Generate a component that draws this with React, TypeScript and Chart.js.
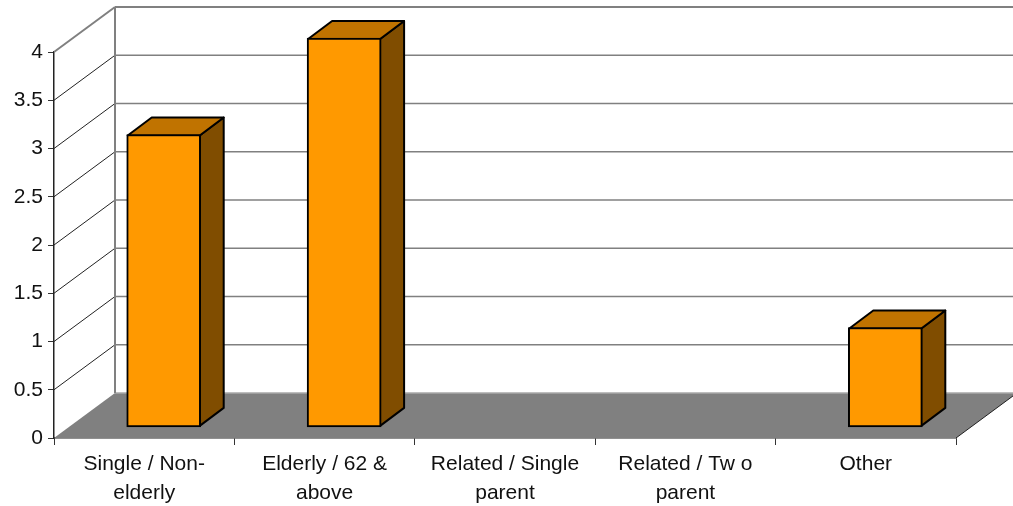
import React, { useEffect, useRef } from "react";
import { Chart, registerables } from "chart.js";

Chart.register(...registerables);

const categories = [
  ["Single / Non-", "elderly"],
  ["Elderly / 62 &", "above"],
  ["Related / Single", "parent"],
  ["Related / Tw o", "parent"],
  ["Other"],
];
const households: (number | null)[] = [3, 4, null, null, 1];
const yTickStep = 0.5;
const yMax = 4;

const FONT = "'Liberation Sans', Arial, sans-serif";
const FACE = "#FF9900";
const TOP = "#C07300";
const SIDE = "#804D00";
const WALL_LINE = "#808080";
const FLOOR = "#808080";

// Oblique projection: how far the back wall sits from the axis plane,
// how far the bars stand in from it, and how deep the bars are.
const WALL_DX = 61;
const WALL_DY = 45;
const BAR_DX = 19.5;
const BAR_DY = 14;
const DEPTH_DX = 24;
const DEPTH_DY = 18;

function poly(ctx: CanvasRenderingContext2D, pts: number[][]) {
  ctx.beginPath();
  pts.forEach(([x, y], i) => (i ? ctx.lineTo(x, y) : ctx.moveTo(x, y)));
  ctx.closePath();
}

function line(ctx: CanvasRenderingContext2D, x1: number, y1: number, x2: number, y2: number, color: string, w: number) {
  ctx.strokeStyle = color;
  ctx.lineWidth = w;
  ctx.beginPath();
  ctx.moveTo(x1, y1);
  ctx.lineTo(x2, y2);
  ctx.stroke();
}

const box3d = {
  id: "box3d",
  beforeDatasetsDraw(chart: any) {
    const { ctx, chartArea: a, scales } = chart;
    const y = scales.y;
    ctx.save();
    ctx.lineCap = "butt";

    // Floor
    ctx.fillStyle = FLOOR;
    poly(ctx, [
      [a.left, a.bottom],
      [a.right, a.bottom],
      [a.right + WALL_DX, a.bottom - WALL_DY],
      [a.left + WALL_DX, a.bottom - WALL_DY],
    ]);
    ctx.fill();
    line(ctx, a.right, a.bottom, a.right + WALL_DX, a.bottom - WALL_DY, "#222", 1);

    // Back wall and side wall grid
    y.ticks.forEach((t: any) => {
      const py = y.getPixelForValue(t.value);
      const top = t.value === yMax;
      if (t.value !== 0) {
        line(ctx, a.left, py, a.left + WALL_DX, py - WALL_DY, top ? WALL_LINE : "#222", top ? 2 : 1);
      }
      const floorEdge = t.value === 0;
      line(ctx, a.left + WALL_DX, py - WALL_DY, a.right + WALL_DX, py - WALL_DY, floorEdge ? "#A8A8A8" : WALL_LINE, top ? 2 : 1.5);
    });
    line(ctx, a.left + WALL_DX, a.top - WALL_DY, a.left + WALL_DX, a.bottom - WALL_DY, WALL_LINE, 2);

    // Top and side faces of each bar
    ctx.lineJoin = "round";
    chart.getDatasetMeta(0).data.forEach((el: any, i: number) => {
      if (households[i] == null) return;
      const { x, y: yTop, base, width } = el.getProps(["x", "y", "base", "width"], true);
      const inset = 1;
      const l = x - width / 2 + inset + BAR_DX;
      const r = x + width / 2 - inset + BAR_DX;
      const t = yTop + inset - BAR_DY;
      const b = base - inset - BAR_DY;
      ctx.lineWidth = 2;
      ctx.strokeStyle = "#000";
      ctx.fillStyle = SIDE;
      poly(ctx, [
        [r, t],
        [r + DEPTH_DX, t - DEPTH_DY],
        [r + DEPTH_DX, b - DEPTH_DY],
        [r, b],
      ]);
      ctx.fill();
      ctx.stroke();
      ctx.fillStyle = TOP;
      poly(ctx, [
        [l, t],
        [l + DEPTH_DX, t - DEPTH_DY],
        [r + DEPTH_DX, t - DEPTH_DY],
        [r, t],
      ]);
      ctx.fill();
      ctx.stroke();
    });
    ctx.restore();
  },
  // The front faces come from the bar elements, moved in from the axis plane.
  beforeDatasetDraw(chart: any) {
    chart.ctx.save();
    chart.ctx.translate(BAR_DX, -BAR_DY);
  },
  afterDatasetDraw(chart: any) {
    chart.ctx.restore();
  },
};

export default function App() {
  const ref = useRef<HTMLCanvasElement>(null);
  useEffect(() => {
    document.body.style.margin = "0";
    document.body.style.background = "#fff";
    const chart = new Chart(ref.current!, {
      type: "bar",
      data: {
        labels: categories,
        datasets: [
          {
            data: households,
            base: -0.03,
            clip: false,
            backgroundColor: FACE,
            borderColor: "#000",
            borderWidth: 2,
            borderSkipped: false,
            barThickness: 74,
          } as any,
        ],
      },
      options: {
        animation: false,
        responsive: false,
        layout: { padding: { top: 52, right: 57, left: 0, bottom: 0 } },
        plugins: { legend: { display: false }, tooltip: { enabled: false } },
        scales: {
          x: {
            grid: { drawOnChartArea: false, drawTicks: true, tickLength: 7, color: "#333", offset: true },
            border: { color: "#222", width: 1.5 },
            ticks: {
              color: "#111",
              font: { family: FONT, size: 21, lineHeight: 1.38 },
              maxRotation: 0,
              autoSkip: false,
              padding: 5,
            },
            afterFit(s: any) {
              s.height = 68;
            },
          },
          y: {
            min: 0,
            max: yMax,
            grid: { drawOnChartArea: false, drawTicks: true, tickLength: 6, color: "#333" },
            border: { color: "#222", width: 1.5 },
            ticks: {
              stepSize: yTickStep,
              color: "#111",
              font: { family: FONT, size: 21 },
              padding: 5,
              callback: (v: any) => String(v),
            },
            afterFit(s: any) {
              s.width = 54;
            },
          },
        },
      } as any,
      plugins: [box3d],
    });
    return () => chart.destroy();
  }, []);
  return <canvas ref={ref} width={1013} height={506} style={{ display: "block" }} />;
}
